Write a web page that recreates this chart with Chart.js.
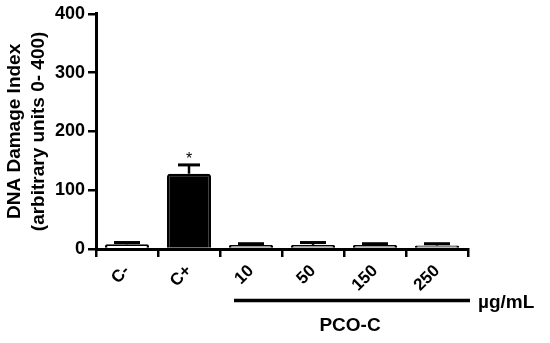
<!DOCTYPE html>
<html>
<head>
<meta charset="utf-8">
<script src="https://cdn.jsdelivr.net/npm/chart.js@4"></script>
<style>
  html, body { margin: 0; padding: 0; background: #fff; }
  #wrap { width: 550px; height: 343px; position: relative; }
</style>
</head>
<body>
<div id="wrap"><canvas id="grafico" width="550" height="343"></canvas></div>
<script>
// datos
const categorias = ['C-', 'C+', '10', '50', '150', '250'];
const valores = [8, 128, 7, 7, 7, 6];
const errores = [3, 15, 2, 4, 2, 3];
const rellenos = ['#ffffff', '#000000', '#8c8c8c', '#8c8c8c', '#8c8c8c', '#8c8c8c'];
const ticksY = [0, 100, 200, 300, 400];

const FUENTE = 'Liberation Sans, Arial, sans-serif';

// barras de error (solo hacia arriba) + asterisco
const pluginErrores = {
    id: 'errores',
    afterDatasetsDraw(chart) {
        const ctx = chart.ctx;
        const x = chart.scales.x, y = chart.scales.y;
        ctx.save();
        ctx.strokeStyle = '#000';
        valores.forEach((v, i) => {
            const px = x.getPixelForValue(i);
            const y0 = y.getPixelForValue(v);
            const y1 = y.getPixelForValue(v + errores[i]);
            const medio = i === 1 ? 11 : 13;
            ctx.lineWidth = 2.5;
            ctx.beginPath();
            ctx.moveTo(px, y0);
            ctx.lineTo(px, y1);
            ctx.stroke();
            ctx.lineWidth = 3;
            ctx.beginPath();
            ctx.moveTo(px - medio, y1);
            ctx.lineTo(px + medio, y1);
            ctx.stroke();
        });
        // asterisco sobre C+
        const pxA = x.getPixelForValue(1);
        const pyA = y.getPixelForValue(valores[1] + errores[1]);
        ctx.fillStyle = '#000';
        ctx.font = '16px ' + FUENTE;
        ctx.textAlign = 'center';
        ctx.textBaseline = 'bottom';
        ctx.fillText('*', pxA, pyA + 3);
        ctx.restore();
    }
};

// linea del grupo PCO-C y etiquetas
const pluginGrupo = {
    id: 'grupo',
    afterDraw(chart) {
        const ctx = chart.ctx;
        const x = chart.scales.x;
        const izq = x.getPixelForValue(2) - 17;
        const der = chart.chartArea.right + 2;
        const yLinea = 300.5;
        ctx.save();
        ctx.strokeStyle = '#000';
        ctx.lineWidth = 3.5;
        ctx.beginPath();
        ctx.moveTo(izq, yLinea);
        ctx.lineTo(der, yLinea);
        ctx.stroke();
        ctx.fillStyle = '#000';
        ctx.font = 'bold 19px ' + FUENTE;
        ctx.textBaseline = 'middle';
        ctx.textAlign = 'left';
        ctx.fillText('µg/mL', der + 8, yLinea + 2);
        ctx.textAlign = 'center';
        ctx.fillText('PCO-C', (izq + der) / 2 - 2, 326);
        ctx.restore();
    }
};

const ctx = document.getElementById('grafico').getContext('2d');
new Chart(ctx, {
    type: 'bar',
    data: {
        labels: categorias,
        datasets: [{
            data: valores,
            backgroundColor: rellenos,
            borderColor: '#000',
            borderWidth: 2.5,
            borderRadius: 3,
            borderSkipped: 'bottom',
            categoryPercentage: 1,
            barPercentage: 0.71
        }]
    },
    options: {
        responsive: false,
        animation: false,
        devicePixelRatio: 1,
        layout: { padding: { top: 12, right: 82, left: 0, bottom: 0 } },
        plugins: { legend: { display: false }, tooltip: { enabled: false } },
        scales: {
            x: {
                offset: true,
                border: { color: '#000', width: 3 },
                grid: { display: true, drawOnChartArea: false, drawTicks: true, tickLength: 8, tickColor: '#000', lineWidth: 2.5 },
                ticks: {
                    color: '#000', maxRotation: 45, minRotation: 45, padding: 4, autoSkip: false,
                    font: { family: FUENTE, size: 17, weight: 'bold' }
                },
                afterFit(s) { s.height = 94; }
            },
            y: {
                min: 0, max: 400,
                afterBuildTicks(s) { s.ticks = ticksY.map(v => ({ value: v })); },
                border: { color: '#000', width: 3 },
                grid: { display: true, drawOnChartArea: false, drawTicks: true, tickLength: 8, tickColor: '#000', lineWidth: 2.5 },
                ticks: {
                    color: '#000', padding: 3,
                    font: { family: FUENTE, size: 18, weight: 'bold' }
                },
                title: {
                    display: true,
                    text: ['DNA Damage Index', '(arbitrary units 0- 400)'],
                    color: '#000',
                    padding: { top: 3, bottom: 4 },
                    font: { family: FUENTE, size: 19, weight: 'bold', lineHeight: 1.25 }
                },
                afterFit(s) { s.width = 96; }
            }
        }
    },
    plugins: [pluginErrores, pluginGrupo]
});
</script>
</body>
</html>
